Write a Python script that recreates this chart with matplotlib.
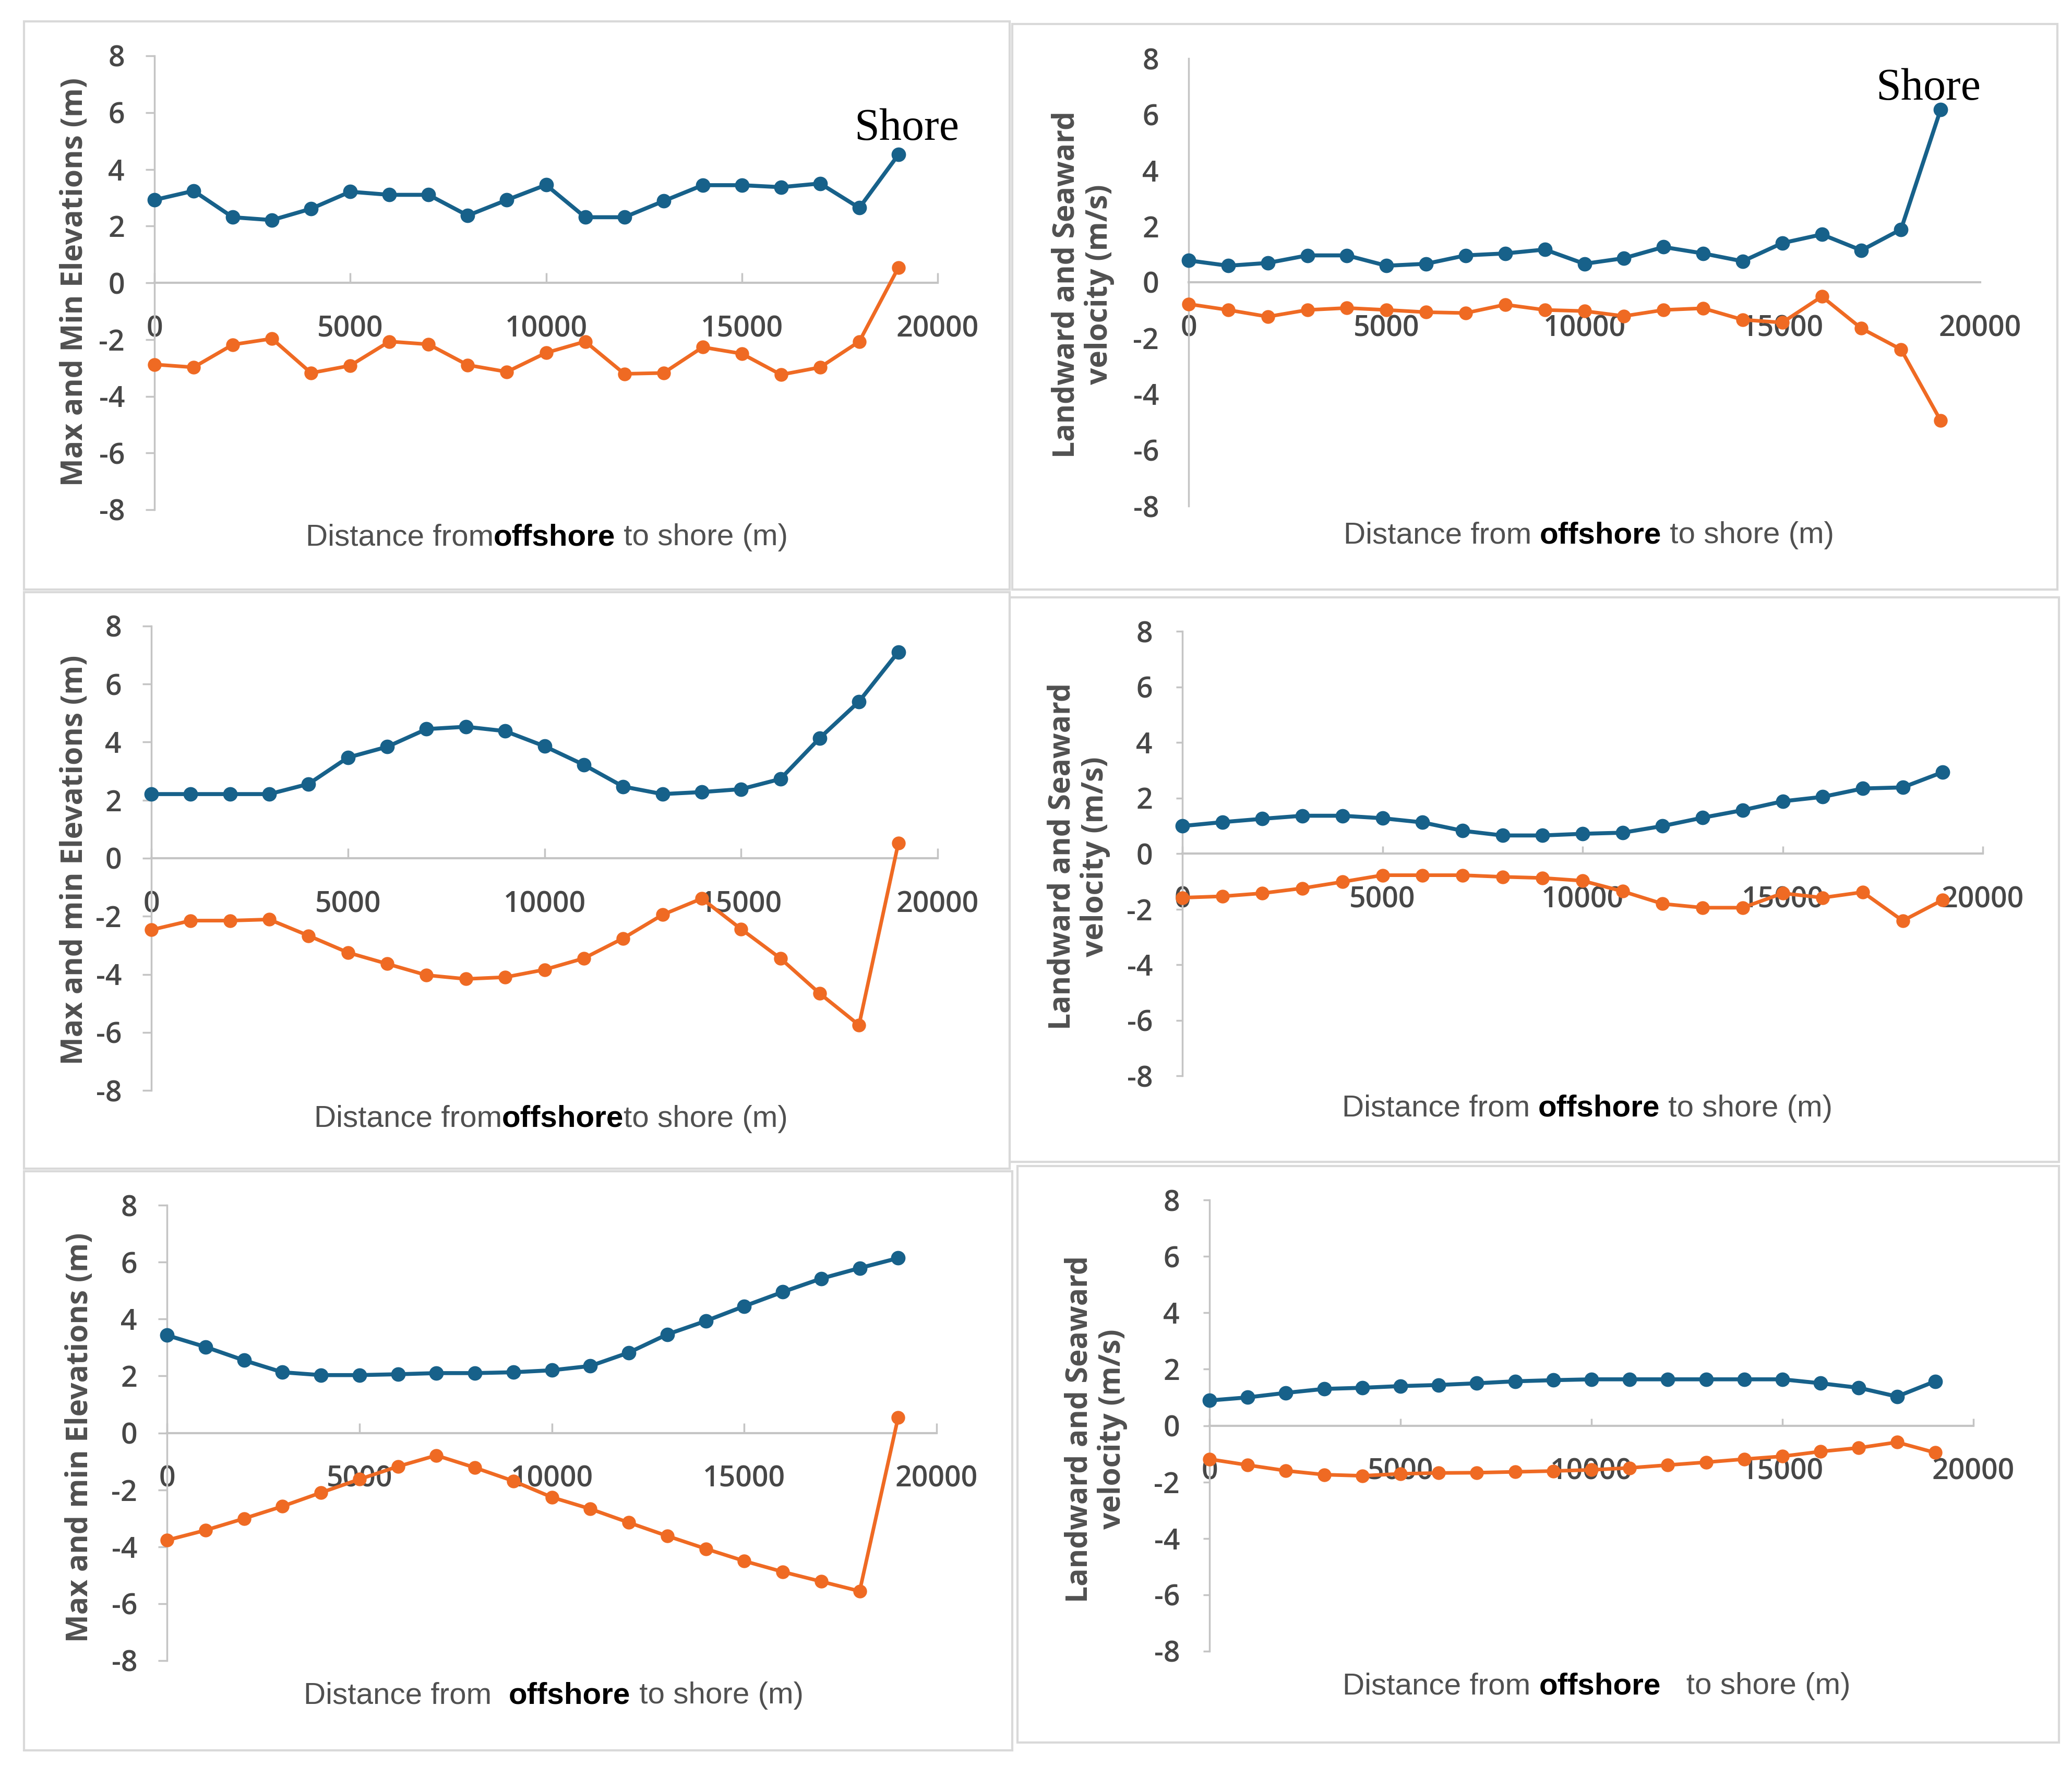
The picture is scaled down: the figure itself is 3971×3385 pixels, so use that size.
import matplotlib
matplotlib.use("Agg")
import matplotlib.pyplot as plt
from matplotlib.patches import Rectangle

W, H = 3971, 3385
DPI = 100

# ---------------- data ----------------
distance = [0, 1000, 2000, 3000, 4000, 5000, 6000, 7000, 8000, 9000,
            10000, 11000, 12000, 13000, 14000, 15000, 16000, 17000, 18000, 19000]
x_ticks = [0, 5000, 10000, 15000, 20000]
y_ticks = [-8, -6, -4, -2, 0, 2, 4, 6, 8]

p1_max = [2.92, 3.24, 2.31, 2.21, 2.61, 3.21, 3.10, 3.10, 2.37, 2.92,
          3.45, 2.31, 2.31, 2.88, 3.44, 3.44, 3.37, 3.50, 2.64, 4.52]
p1_min = [-2.88, -2.98, -2.18, -1.97, -3.18, -2.92, -2.07, -2.17, -2.90, -3.14,
          -2.47, -2.07, -3.21, -3.18, -2.27, -2.50, -3.24, -2.98, -2.07, 0.54]

p2_land = [0.78, 0.59, 0.69, 0.96, 0.96, 0.59, 0.66, 0.96, 1.03, 1.17,
           0.66, 0.86, 1.26, 1.03, 0.75, 1.40, 1.71, 1.14, 1.89, 6.17]
p2_sea = [-0.78, -0.99, -1.23, -0.99, -0.92, -0.99, -1.07, -1.10, -0.80, -0.99,
          -1.03, -1.21, -0.99, -0.93, -1.34, -1.44, -0.51, -1.65, -2.40, -4.94]

p3_max = [2.21, 2.21, 2.21, 2.21, 2.56, 3.47, 3.84, 4.45, 4.53, 4.38,
          3.86, 3.22, 2.47, 2.21, 2.28, 2.38, 2.73, 4.14, 5.40, 7.11]
p3_min = [-2.47, -2.15, -2.15, -2.11, -2.67, -3.25, -3.64, -4.03, -4.16, -4.10,
          -3.84, -3.45, -2.76, -1.95, -1.39, -2.44, -3.45, -4.66, -5.75, 0.52]

p4_land = [0.99, 1.13, 1.25, 1.36, 1.36, 1.27, 1.12, 0.82, 0.65, 0.65,
           0.71, 0.75, 0.99, 1.29, 1.56, 1.88, 2.04, 2.34, 2.38, 2.93]
p4_sea = [-1.59, -1.54, -1.43, -1.25, -1.02, -0.78, -0.78, -0.78, -0.84, -0.88,
          -0.98, -1.36, -1.81, -1.95, -1.95, -1.43, -1.59, -1.39, -2.42, -1.67]

p5_max = [3.43, 3.02, 2.55, 2.13, 2.03, 2.03, 2.06, 2.10, 2.10, 2.13,
          2.20, 2.35, 2.82, 3.46, 3.93, 4.45, 4.95, 5.42, 5.79, 6.14]
p5_min = [-3.77, -3.42, -3.01, -2.58, -2.10, -1.63, -1.18, -0.79, -1.22, -1.69,
          -2.26, -2.67, -3.15, -3.62, -4.07, -4.50, -4.88, -5.22, -5.56, 0.54]

p6_land = [0.89, 1.00, 1.16, 1.30, 1.34, 1.40, 1.44, 1.50, 1.57, 1.61,
           1.64, 1.64, 1.64, 1.64, 1.64, 1.64, 1.50, 1.34, 1.03, 1.57]
p6_sea = [-1.19, -1.40, -1.60, -1.74, -1.78, -1.71, -1.68, -1.67, -1.64, -1.61,
          -1.57, -1.50, -1.40, -1.30, -1.19, -1.09, -0.92, -0.79, -0.59, -0.96]

ylabels = ["Max and Min Elevations (m)",
           "Landward and Seaward\nvelocity (m/s)",
           "Max and min Elevations (m)",
           "Landward and Seaward\nvelocity (m/s)",
           "Max and min Elevations (m)",
           "Landward and Seaward\nvelocity (m/s)"]
xlabels = [("Distance from", "offshore", " to shore (m)"),
           ("Distance from ", "offshore", " to shore (m)"),
           ("Distance from", "offshore", "to shore (m)"),
           ("Distance from ", "offshore", " to shore (m)"),
           ("Distance from  ", "offshore", " to shore (m)"),
           ("Distance from ", "offshore", "   to shore (m)")]
shore_text = "Shore"

BLUE = "#17618a"
ORANGE = "#ef6a23"
GRAY_TXT = "#505050"
TICK_TXT = "#474747"
AXIS_GRAY = "#c4c4c4"
FRAME = "#d9d9d9"

# ---------------- layout (pixels) ----------------
panels = [
    dict(frame=(46, 41, 1935, 1130), ax=(296, 1797, 107, 977), yl=(143, 540), xl=(1048, 1030),
         shore=(1738, 247), data=(p1_max, p1_min), ticklen=14),
    dict(frame=(1940, 46, 3943, 1130), ax=(2278, 3795, 112, 970), yl=(2075, 545), xl=(3045, 1026),
         shore=(3696, 170), data=(p2_land, p2_sea), ticklen=0),
    dict(frame=(46, 1135, 1935, 2240), ax=(290, 1797, 1200, 2090), yl=(143, 1648), xl=(1056, 2145),
         shore=None, data=(p3_max, p3_min), ticklen=14),
    dict(frame=(1935, 1145, 3946, 2227), ax=(2266, 3800, 1210, 2062), yl=(2067, 1642), xl=(3042, 2125),
         shore=None, data=(p4_land, p4_sea), ticklen=10),
    dict(frame=(46, 2245, 1940, 3355), ax=(320, 1795, 2310, 3183), yl=(153, 2755), xl=(1061, 3250),
         shore=None, data=(p5_max, p5_min), ticklen=14),
    dict(frame=(1950, 2235, 3946, 3340), ax=(2318, 3782, 2300, 3165), yl=(2100, 2739), xl=(3060, 3232),
         shore=None, data=(p6_land, p6_sea), ticklen=10),
]

fig = plt.figure(figsize=(W / DPI, H / DPI), dpi=DPI)
fig.patch.set_facecolor("white")

TICK_FONT = ["Open Sans", "DejaVu Sans"]
YL_FONT = ["Open Sans", "DejaVu Sans"]
XL_FONT = ["Liberation Sans", "DejaVu Sans"]

def fx(px):
    return px / W

def fy(py):
    return 1 - py / H

renderer = fig.canvas.get_renderer()

for i, p in enumerate(panels):
    x0, y0, x1, y1 = p["frame"]
    fig.add_artist(Rectangle((fx(x0), fy(y1)), fx(x1 - x0), (y1 - y0) / H,
                             transform=fig.transFigure, fill=False,
                             edgecolor=FRAME, lw=3))
    ax0, ax1, ay0, ay1 = p["ax"]
    ax = fig.add_axes([fx(ax0), fy(ay1), fx(ax1 - ax0), (ay1 - ay0) / H])
    ax.set_facecolor("none")
    ax.set_xlim(0, 20000)
    ax.set_ylim(-8, 8)
    for s in ["top", "right"]:
        ax.spines[s].set_visible(False)
    ax.spines["bottom"].set_position(("data", 0))
    ax.spines["bottom"].set_color(AXIS_GRAY)
    ax.spines["left"].set_color(AXIS_GRAY)
    ax.spines["bottom"].set_linewidth(3)
    ax.spines["left"].set_linewidth(2.5)
    ax.set_xticks(x_ticks)
    ax.set_yticks(y_ticks)
    ax.set_xticklabels([str(t) for t in x_ticks])
    ax.set_yticklabels([str(t) for t in y_ticks])
    ax.tick_params(axis="x", direction="in", length=p["ticklen"], width=2.5,
                   color=AXIS_GRAY, pad=44, labelsize=40, labelcolor=TICK_TXT)
    ax.tick_params(axis="y", direction="out", length=p["ticklen"] * 0.9, width=2.5,
                   color=AXIS_GRAY, pad=28 + (13 - p["ticklen"] * 0.9), labelsize=40,
                   labelcolor=TICK_TXT)
    for lab in ax.get_xticklabels() + ax.get_yticklabels():
        lab.set_family(TICK_FONT)
        lab.set_fontweight("semibold")

    upper, lower = p["data"]
    ax.plot(distance, upper, color=BLUE, lw=5.5, marker="o", markersize=19,
            markeredgecolor=BLUE, clip_on=False, zorder=3)
    ax.plot(distance, lower, color=ORANGE, lw=5, marker="o", markersize=18,
            markeredgecolor=ORANGE, clip_on=False, zorder=3)

    # y label
    ylx, yly = p["yl"]
    fig.text(fx(ylx), fy(yly), ylabels[i], rotation=90, ha="center", va="center",
             multialignment="center", fontsize=41, fontweight="bold",
             color=GRAY_TXT, family=YL_FONT, linespacing=1.12)

    # x label built from pieces
    parts = xlabels[i]
    styles = [dict(color=GRAY_TXT, fontweight="normal"),
              dict(color="black", fontweight="bold"),
              dict(color=GRAY_TXT, fontweight="normal")]
    cx, cy = p["xl"]
    widths = []
    objs = []
    for txt, st in zip(parts, styles):
        t = fig.text(0, fy(cy), txt, ha="left", va="center", fontsize=42,
                     family=XL_FONT, **st)
        bb = t.get_window_extent(renderer=renderer)
        widths.append(bb.width)
        objs.append(t)
    total = sum(widths)
    start = cx - total / 2
    for t, w in zip(objs, widths):
        t.set_x(fx(start))
        start += w

    if p["shore"] is not None:
        sx, sy = p["shore"]
        fig.text(fx(sx), fy(sy), shore_text, ha="center", va="center",
                 fontsize=62, color="black",
                 family=["Liberation Serif", "DejaVu Serif"])

fig.savefig("out.png", dpi=DPI, facecolor="white")
